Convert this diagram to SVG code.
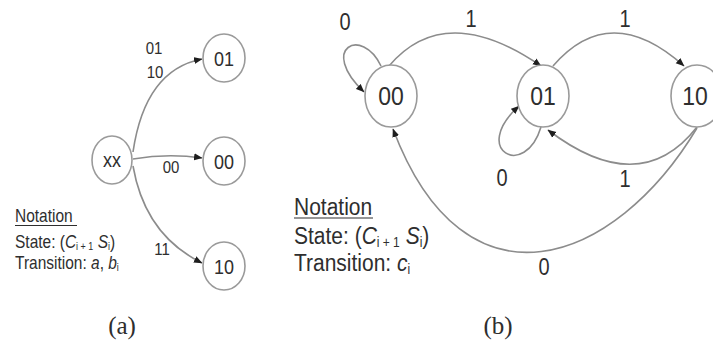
<svg xmlns="http://www.w3.org/2000/svg" width="713" height="343" viewBox="0 0 713 343">
<style>
.bg{fill:#fff}
.node{fill:#fff;stroke:#9a9a9a;stroke-width:1.6}
.edge{fill:none;stroke:#8c8c8c;stroke-width:1.6}
.t{font-family:"Liberation Sans",Arial,sans-serif;fill:#2e2e2e;text-anchor:middle}
.n{font-family:"Liberation Sans",Arial,sans-serif;fill:#2e2e2e}
.it{font-style:italic}
.cap{font-family:"Liberation Serif","Times New Roman",serif;fill:#2e2e2e;text-anchor:middle;font-size:25px}
</style>
<defs>
<marker id="ah" markerUnits="userSpaceOnUse" markerWidth="9" markerHeight="8" refX="8" refY="4" orient="auto">
<path d="M0,0.5 L8.5,4 L0,7.5 z" fill="#1e1e1e"/>
</marker>
</defs>
<rect class="bg" x="0" y="0" width="713" height="343"/>

<g id="connectors">
<!-- (a) -->
<path class="edge" d="M133,152 Q145,70 202,59" marker-end="url(#ah)"/>
<path class="edge" d="M133,159 Q168,153 202,158" marker-end="url(#ah)"/>
<path class="edge" d="M133,166 Q145,235 202,263" marker-end="url(#ah)"/>
<!-- (b) -->
<path class="edge" d="M381,66 C362,26 318,48 364,92" marker-end="url(#ah)"/>
<path class="edge" d="M389,66 Q445,0 541,66" marker-end="url(#ah)"/>
<path class="edge" d="M553,66 Q610,0 684,66" marker-end="url(#ah)"/>
<path class="edge" d="M697,127 Q640,200 548,130" marker-end="url(#ah)"/>
<path class="edge" d="M541,127 C525,180 470,150 519,106" marker-end="url(#ah)"/>
<path class="edge" d="M697,128 C615,265 465,320 393,129" marker-end="url(#ah)"/>
</g>

<g id="edge-labels">
<text class="t" font-size="15" transform="translate(154,54) scale(1,1.15)">01</text>
<text class="t" font-size="15" transform="translate(155,78) scale(1,1.15)">10</text>
<text class="t" font-size="15" transform="translate(171,173) scale(1,1.15)">00</text>
<text class="t" font-size="15" transform="translate(162,255) scale(1,1.15)">11</text>
<text class="t" font-size="20" transform="translate(345,30) scale(1,1.15)">0</text>
<text class="t" font-size="20" transform="translate(471,27) scale(1,1.15)">1</text>
<text class="t" font-size="20" transform="translate(625,27) scale(1,1.15)">1</text>
<text class="t" font-size="20" transform="translate(625,187) scale(1,1.15)">1</text>
<text class="t" font-size="20" transform="translate(502,186) scale(1,1.15)">0</text>
<text class="t" font-size="20" transform="translate(544,275) scale(1,1.15)">0</text>
</g>

<g id="node-a-xx">
<ellipse class="node" cx="112" cy="160" rx="20" ry="24"/>
<text class="t" font-size="18" transform="translate(112,167) scale(1,1.15)">xx</text>
</g>
<g id="node-a-01">
<ellipse class="node" cx="224" cy="58" rx="21" ry="24"/>
<text class="t" font-size="18" transform="translate(224,66) scale(1,1.15)">01</text>
</g>
<g id="node-a-00">
<ellipse class="node" cx="224" cy="161" rx="21" ry="24"/>
<text class="t" font-size="18" transform="translate(224,169) scale(1,1.15)">00</text>
</g>
<g id="node-a-10">
<ellipse class="node" cx="224" cy="266" rx="21" ry="24"/>
<text class="t" font-size="18" transform="translate(224,274) scale(1,1.15)">10</text>
</g>

<g id="node-b-00">
<ellipse class="node" cx="391" cy="96" rx="26" ry="31"/>
<text class="t" font-size="23" transform="translate(391,105) scale(1,1.15)">00</text>
</g>
<g id="node-b-01">
<ellipse class="node" cx="543" cy="96" rx="26" ry="31"/>
<text class="t" font-size="23" transform="translate(543,105) scale(1,1.15)">01</text>
</g>
<g id="node-b-10">
<ellipse class="node" cx="697" cy="96" rx="26" ry="31"/>
<text class="t" font-size="23" transform="translate(695,105) scale(1,1.15)">10</text>
</g>

<g id="notation-a">
<text class="n" font-size="15.5" transform="translate(15,222) scale(1,1.15)">Notation</text>
<line x1="15" y1="225.5" x2="77" y2="225.5" stroke="#2e2e2e" stroke-width="1"/>
<text class="n" font-size="15.5" transform="translate(15,248) scale(1,1.15)">State: (<tspan class="it">C</tspan><tspan font-size="9" dy="2">i + 1</tspan><tspan dy="-2"> </tspan><tspan class="it">S</tspan><tspan font-size="9" dy="2">i</tspan><tspan dy="-2">)</tspan></text>
<text class="n" font-size="15.5" transform="translate(15,269) scale(1,1.15)">Transition: <tspan class="it">a</tspan>, <tspan class="it">b</tspan><tspan font-size="9" dy="2">i</tspan></text>
</g>

<g id="notation-b">
<text class="n" font-size="21" transform="translate(294,215) scale(1,1.15)">Notation</text>
<line x1="294" y1="218" x2="373" y2="218" stroke="#2e2e2e" stroke-width="1.2"/>
<text class="n" font-size="21" transform="translate(294,244) scale(1,1.15)">State: (<tspan class="it">C</tspan><tspan font-size="12" dy="3">i + 1</tspan><tspan dy="-3"> </tspan><tspan class="it">S</tspan><tspan font-size="12" dy="3">i</tspan><tspan dy="-3">)</tspan></text>
<text class="n" font-size="21" transform="translate(294,271) scale(1,1.15)">Transition: <tspan class="it">c</tspan><tspan font-size="12" dy="3">i</tspan></text>
</g>

<g id="captions">
<text class="cap" transform="translate(122,334)">(a)</text>
<text class="cap" transform="translate(498,334)">(b)</text>
</g>
</svg>
